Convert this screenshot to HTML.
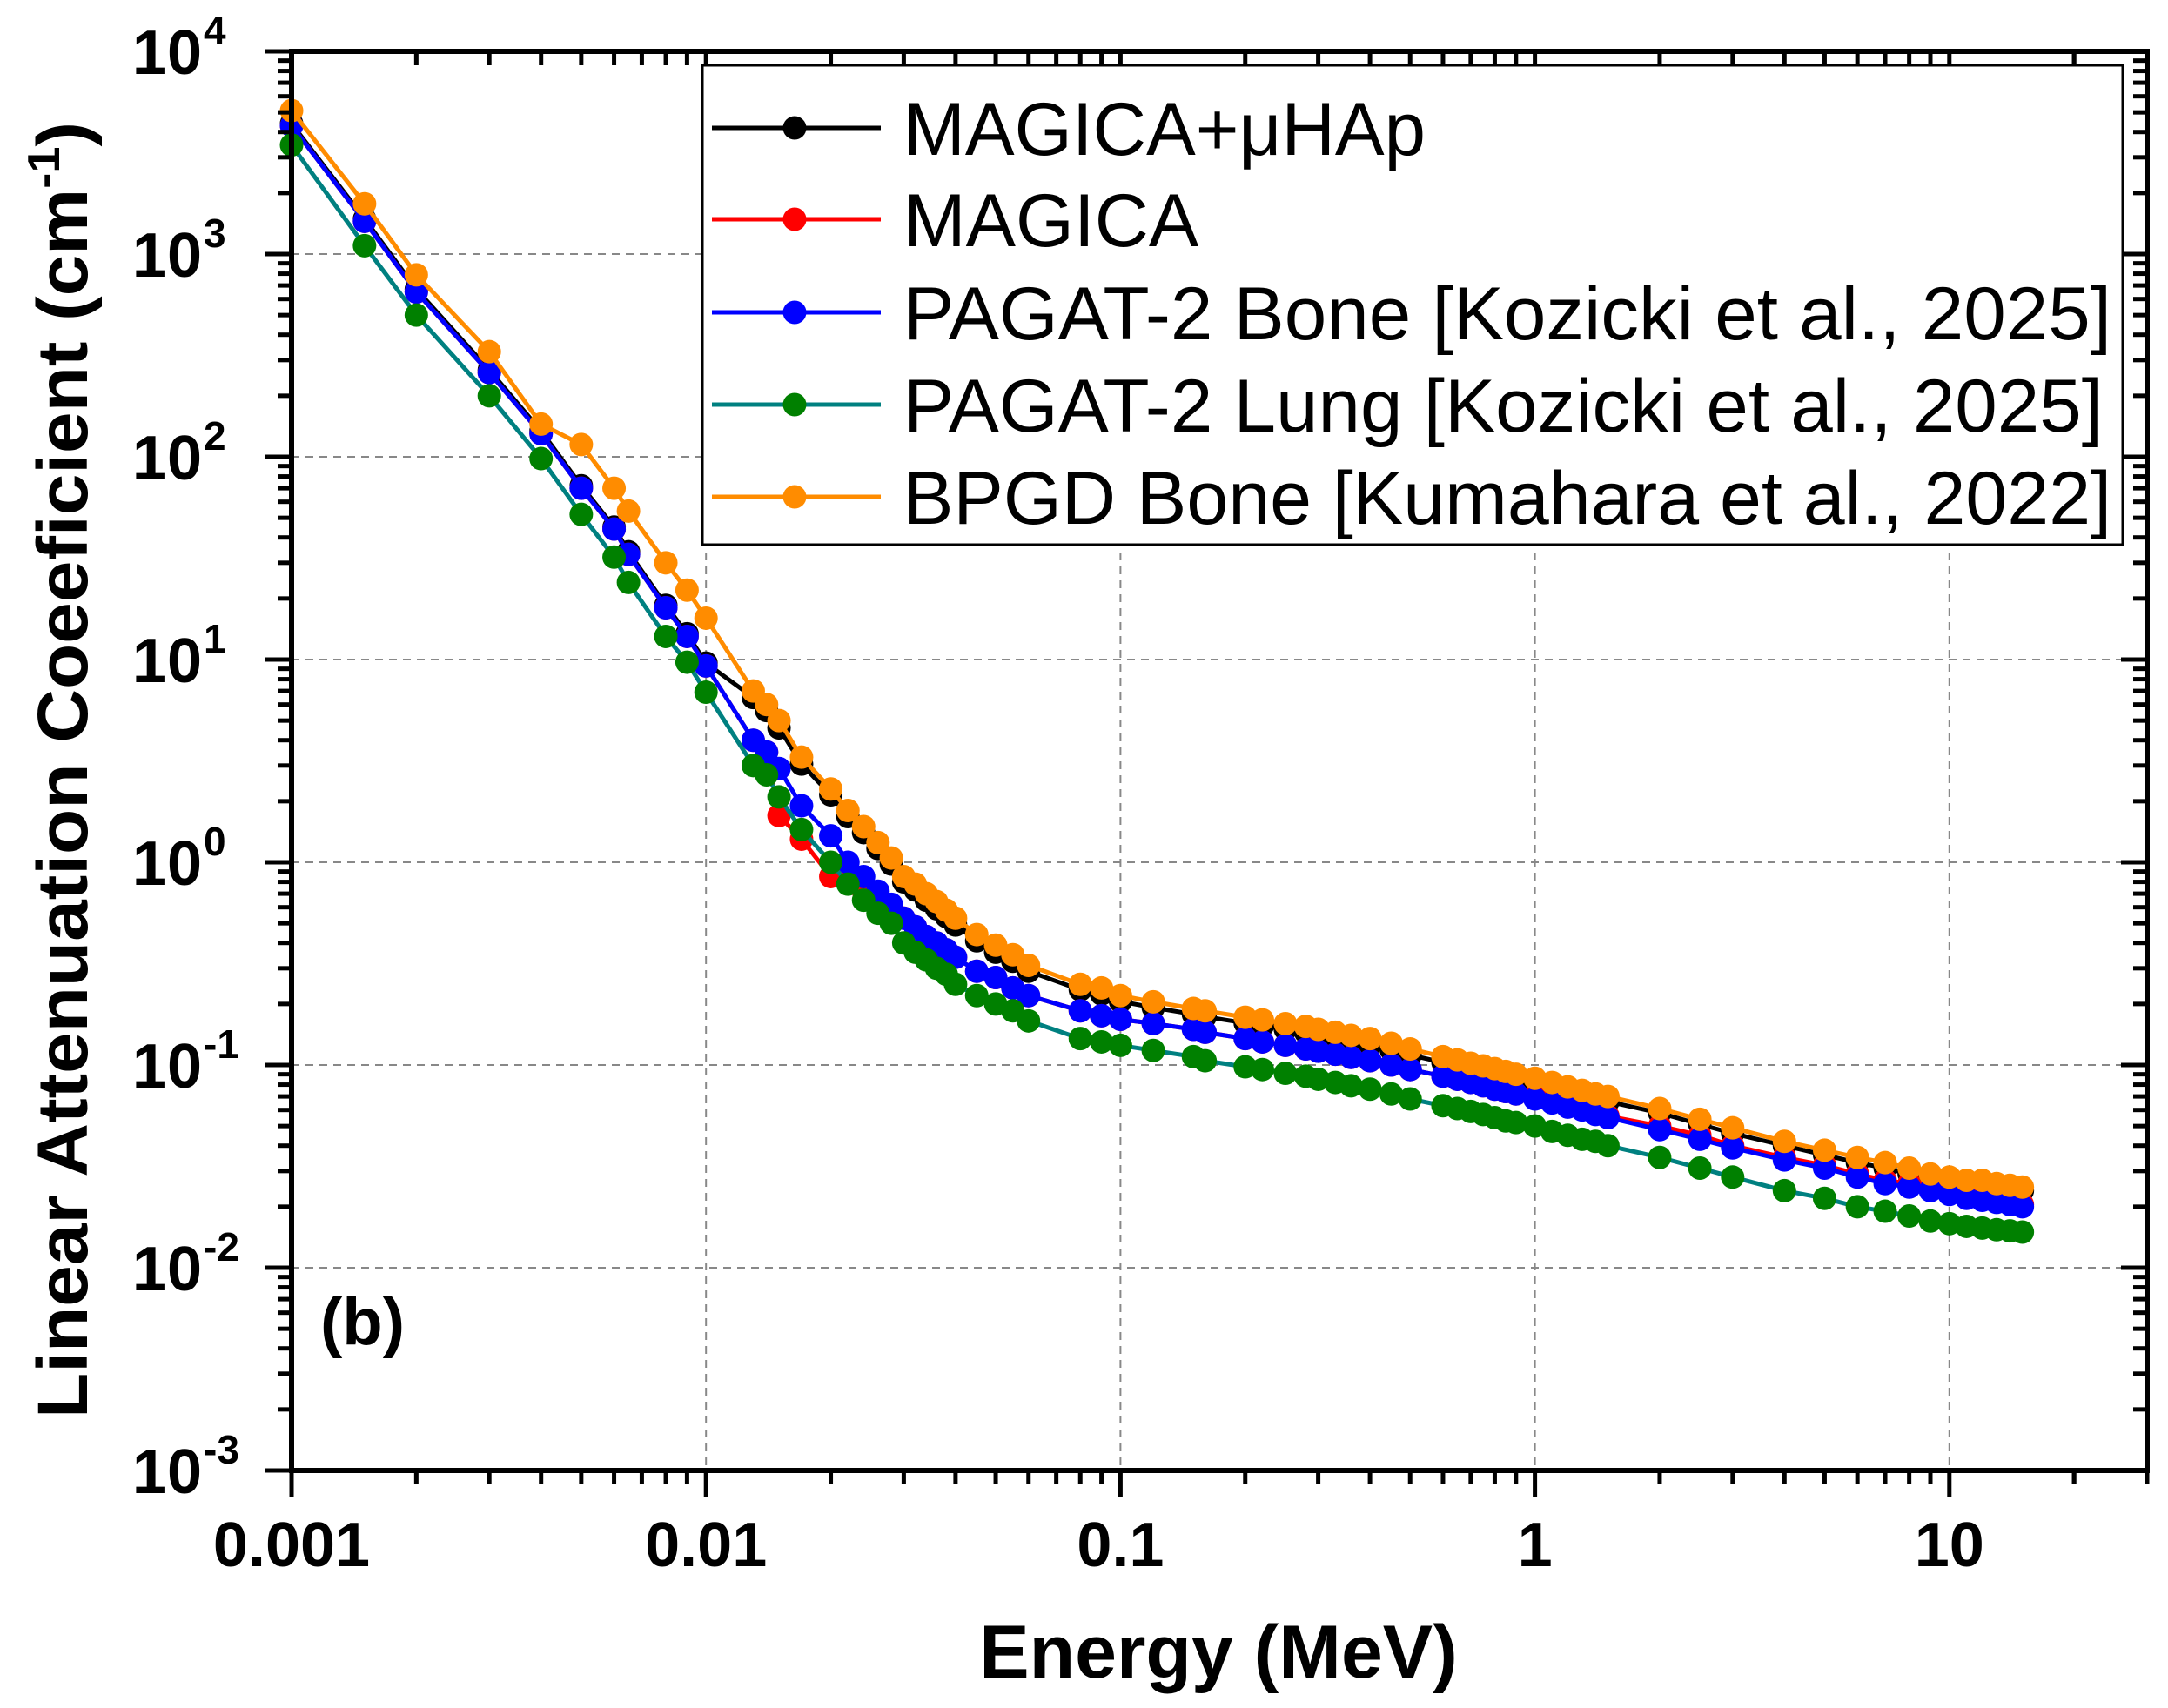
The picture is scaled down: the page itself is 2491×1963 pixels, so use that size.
<!DOCTYPE html>
<html><head><meta charset="utf-8"><style>
html,body{margin:0;padding:0;background:#fff;}
svg{display:block;font-family:"Liberation Sans",Arial,sans-serif;}
</style></head><body>
<svg id="chart" width="2491" height="1963" viewBox="0 0 2491 1963" xmlns="http://www.w3.org/2000/svg">
<rect x="0" y="0" width="2491" height="1963" fill="#fff"/>
<g id="grid"></g>
<g id="series"></g>
<g id="axes"></g>
<text x="368" y="1545" font-size="76" font-weight="bold">(b)</text>
<text x="1400" y="1928" font-size="86" font-weight="bold" text-anchor="middle">Energy (MeV)</text>
<text transform="translate(100,885) rotate(-90)" font-size="82" font-weight="bold" text-anchor="middle" textLength="1490" lengthAdjust="spacingAndGlyphs">Linear Attenuation Coeeficient (cm<tspan font-size="52" dy="-32">-1</tspan><tspan dy="32">)</tspan></text>
<g id="legend"></g>
</svg>
<script>
const energy=[0.001,0.0015,0.002,0.003,0.004,0.005,0.006,0.0065,0.008,0.009,0.01,0.013,0.014,0.015,0.017,0.02,0.022,0.024,0.026,0.028,0.03,0.032,0.034,0.036,0.038,0.04,0.045,0.05,0.055,0.06,0.08,0.09,0.1,0.12,0.15,0.16,0.2,0.22,0.25,0.28,0.3,0.33,0.36,0.4,0.45,0.5,0.6,0.65,0.7,0.75,0.8,0.85,0.9,1.0,1.1,1.2,1.3,1.4,1.5,2,2.5,3,4,5,6,7,8,9,10,11,12,13,14,15];
const bpgdBone=[5100,1770,790,330,145,115,70,54,30,22,16,7,6,5,3.3,2.3,1.8,1.5,1.25,1.05,0.85,0.78,0.70,0.64,0.58,0.53,0.44,0.39,0.35,0.31,0.25,0.24,0.22,0.205,0.19,0.185,0.172,0.167,0.16,0.155,0.15,0.145,0.14,0.135,0.128,0.12,0.11,0.106,0.102,0.099,0.096,0.093,0.09,0.086,0.082,0.078,0.075,0.072,0.07,0.061,0.054,0.049,0.042,0.038,0.035,0.033,0.031,0.029,0.028,0.027,0.027,0.026,0.0255,0.025];
const magicaHap=[4400,1490,670,268,134,72,45,34,18.5,13.4,9.6,6.5,5.6,4.6,3.05,2.15,1.68,1.4,1.17,0.98,0.8,0.73,0.65,0.59,0.54,0.49,0.41,0.36,0.325,0.29,0.235,0.224,0.206,0.192,0.178,0.173,0.161,0.156,0.15,0.145,0.14,0.135,0.131,0.126,0.119,0.112,0.103,0.099,0.095,0.093,0.09,0.087,0.084,0.08,0.077,0.073,0.07,0.068,0.066,0.058,0.051,0.046,0.04,0.036,0.033,0.031,0.029,0.028,0.027,0.026,0.0255,0.025,0.0245,0.024];
const magica=[4300,1450,650,260,130,70,44,33,18,13,9.3,4,3.5,1.7,1.3,0.85,0.8,0.72,0.65,0.6,0.53,0.48,0.43,0.4,0.37,0.34,0.29,0.27,0.24,0.22,0.185,0.175,0.168,0.16,0.15,0.145,0.135,0.13,0.125,0.12,0.117,0.113,0.109,0.105,0.1,0.095,0.088,0.085,0.082,0.079,0.076,0.074,0.072,0.069,0.066,0.063,0.061,0.058,0.056,0.05,0.045,0.04,0.035,0.032,0.029,0.027,0.026,0.025,0.024,0.023,0.022,0.0215,0.021,0.0205];
const pagatBone=[4300,1450,650,260,130,70,44,33,18,13,9.3,4,3.5,2.9,1.9,1.35,1.0,0.85,0.72,0.62,0.53,0.48,0.43,0.4,0.37,0.34,0.29,0.27,0.24,0.22,0.185,0.175,0.168,0.16,0.15,0.145,0.135,0.13,0.125,0.12,0.117,0.113,0.109,0.105,0.1,0.095,0.088,0.085,0.082,0.079,0.076,0.074,0.072,0.068,0.065,0.062,0.06,0.057,0.055,0.048,0.043,0.039,0.034,0.031,0.028,0.026,0.025,0.024,0.023,0.022,0.0215,0.021,0.0205,0.02];
const pagatLung=[3450,1100,500,200,98,52,32,24,13,9.7,6.9,3,2.7,2.1,1.45,1.0,0.78,0.65,0.56,0.5,0.4,0.36,0.33,0.30,0.28,0.25,0.22,0.2,0.185,0.165,0.135,0.13,0.125,0.118,0.11,0.105,0.098,0.095,0.091,0.088,0.085,0.082,0.079,0.076,0.072,0.068,0.063,0.061,0.059,0.057,0.055,0.053,0.052,0.05,0.047,0.045,0.043,0.042,0.04,0.035,0.031,0.028,0.024,0.022,0.02,0.019,0.018,0.017,0.0165,0.016,0.0157,0.0154,0.0152,0.015];
const seriesNames=["MAGICA+\u03bcHAp","MAGICA","PAGAT-2 Bone [Kozicki et al., 2025]","PAGAT-2 Lung [Kozicki et al., 2025]","BPGD Bone [Kumahara et al., 2022]"];
const xTickLabels=["0.001","0.01","0.1","1","10"];
const yTickExps=["-3","-2","-1","0","1","2","3","4"];

const NS="http://www.w3.org/2000/svg";
const L=335,R=2467,T=59,B=1690;
const XMIN=-3,XMAX=Math.log10(30),YMIN=-3,YMAX=4;
function xs(v){return L+(Math.log10(v)-XMIN)/(XMAX-XMIN)*(R-L);}
function ys(v){return B-(Math.log10(v)-YMIN)/(YMAX-YMIN)*(B-T);}
function mk(tag,attrs,parent){const e=document.createElementNS(NS,tag);for(const k in attrs)e.setAttribute(k,attrs[k]);parent.appendChild(e);return e;}
const grid=document.getElementById('grid'),axes=document.getElementById('axes'),ser=document.getElementById('series'),leg=document.getElementById('legend');

for(let e=-2;e<=1;e++){const x=xs(Math.pow(10,e));const g=mk('line',{x1:x,x2:x,y1:T,y2:B,stroke:'#888','stroke-width':2,'stroke-dasharray':'9 7'},grid);

}
for(let e=-2;e<=3;e++){const y=ys(Math.pow(10,e));const g=mk('line',{x1:L,x2:R,y1:y,y2:y,stroke:'#888','stroke-width':2,'stroke-dasharray':'9 7'},grid);

}

const colors=['#000000','#ff0000','#0000ff','#008080','#ff8c00'];
const mcolors=['#000000','#ff0000','#0000ff','#008000','#ff8c00'];
const data=[magicaHap,magica,pagatBone,pagatLung,bpgdBone];
const keys=['magica-hap','magica','pagat2-bone','pagat2-lung','bpgd-bone'];
data.forEach((vals,i)=>{
  const g=mk('g',{},ser);
  
  
  const pts=vals.map((v,j)=>xs(energy[j]).toFixed(1)+','+ys(v).toFixed(1)).join(' ');
  const pl=mk('polyline',{points:pts,fill:'none',stroke:colors[i],'stroke-width':5,'stroke-linejoin':'round'},g);
  
  
  vals.forEach((v,j)=>{const c=mk('circle',{cx:xs(energy[j]),cy:ys(v),r:13.5,fill:mcolors[i]},g);
    
    });
});

const fr=mk('rect',{x:L,y:T,width:R-L,height:B-T,fill:'none',stroke:'#000','stroke-width':6},axes);


for(let e=-3;e<=1;e++){
  for(let m=1;m<=9;m++){
    const v=m*Math.pow(10,e); if(Math.log10(v)>XMAX)break;
    const x=xs(v),len=m===1?30:16;
    mk('line',{x1:x,x2:x,y1:B,y2:B+len,stroke:'#000','stroke-width':5},axes);
    mk('line',{x1:x,x2:x,y1:T,y2:T+len,stroke:'#000','stroke-width':5},axes);
  }
}
for(let m=2;m<=3;m++){const x=xs(m*10);mk('line',{x1:x,x2:x,y1:B,y2:B+16,stroke:'#000','stroke-width':5},axes);mk('line',{x1:x,x2:x,y1:T,y2:T+16,stroke:'#000','stroke-width':5},axes);}
xTickLabels.forEach((lab,i)=>{
  const t=mk('text',{x:xs(Math.pow(10,i-3)),y:1800,'font-size':72,'font-weight':'bold','text-anchor':'middle'},axes);
  t.textContent=lab;
  
  
});
for(let e=-3;e<=4;e++){
  for(let m=1;m<=9;m++){
    const v=m*Math.pow(10,e); if(Math.log10(v)>YMAX+1e-9)break;
    const y=ys(v),len=m===1?30:16;
    mk('line',{x1:L,x2:L-len,y1:y,y2:y,stroke:'#000','stroke-width':5},axes);
    mk('line',{x1:R,x2:R-len,y1:y,y2:y,stroke:'#000','stroke-width':5},axes);
  }
}
yTickExps.forEach((ex,i)=>{
  const y=ys(Math.pow(10,i-3));
  const t=mk('text',{x:232,y:y+26,'font-size':72,'font-weight':'bold','text-anchor':'end'},axes);
  t.textContent='10';
  
  
  const s=mk('text',{x:234,y:y-8,'font-size':46,'font-weight':'bold'},axes);
  s.textContent=ex;
  
  
});

const lb=mk('rect',{x:807,y:75,width:1632,height:551,fill:'#fff',stroke:'#000','stroke-width':3},leg);


const rowY=[147,252,359,465,571];
const legW=[600,0,1388,1378,1388];
seriesNames.forEach((nm,i)=>{
  const g=mk('g',{},leg);
  
  
  mk('line',{x1:818,x2:1012,y1:rowY[i],y2:rowY[i],stroke:colors[i],'stroke-width':5},g);
  mk('circle',{cx:913,cy:rowY[i],r:13.5,fill:mcolors[i]},g);
  const t=mk('text',{x:1038,y:rowY[i]+31,'font-size':86},g);
  if(legW[i])t.setAttribute('textLength',legW[i]);
  t.setAttribute('lengthAdjust','spacingAndGlyphs');
  t.textContent=nm;
});
</script>
</body></html>
